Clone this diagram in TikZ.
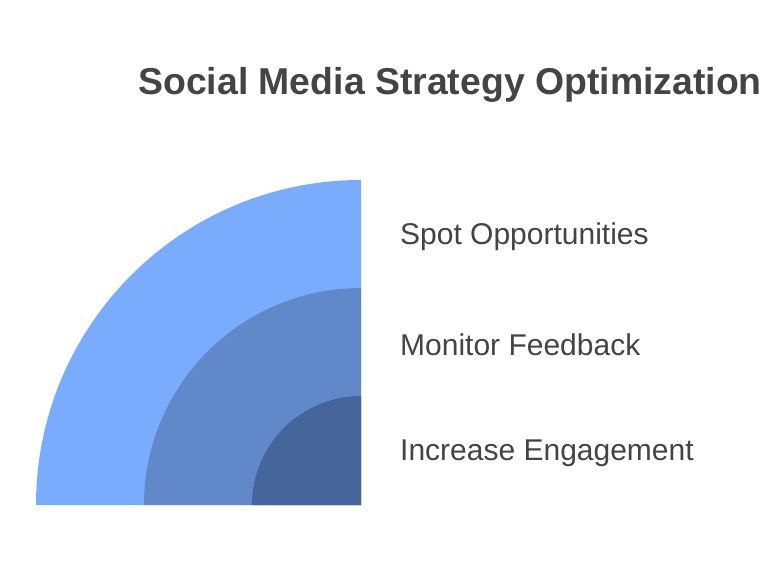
\documentclass[tikz,border=0pt]{standalone}
\usepackage{fontspec}
\setmainfont{Liberation Sans}
\definecolor{outerc}{HTML}{7AACFE}
\definecolor{midc}{HTML}{6189C9}
\definecolor{innerc}{HTML}{45659B}
\definecolor{txt}{HTML}{444444}
\begin{document}
\begin{tikzpicture}[x=1pt,y=-1pt,
  lbl/.style={anchor=west,text=txt,font=\fontsize{30}{34}\selectfont,inner sep=0pt},
  ttl/.style={anchor=center,text=txt,font=\fontsize{37.4}{42}\selectfont\bfseries,inner sep=0pt}]
\useasboundingbox (0,0) rectangle (775,578);
\fill[white] (0,0) rectangle (775,578);
\coordinate (c) at (361,505);
\fill[outerc] (c) -- ++(-325,0) arc[start angle=180,end angle=270,radius=325] -- cycle;
\fill[midc] (c) -- ++(-217,0) arc[start angle=180,end angle=270,radius=217] -- cycle;
\fill[innerc] (c) -- ++(-109,0) arc[start angle=180,end angle=270,radius=109] -- cycle;
\node[ttl] (title) at (450,85) {Social Media Strategy Optimization};
\node[lbl] (l1) at (400,237) {Spot Opportunities};
\node[lbl] (l2) at (400,345) {Monitor Feedback};
\node[lbl] (l3) at (400,453) {Increase Engagement};
\end{tikzpicture}
\end{document}
